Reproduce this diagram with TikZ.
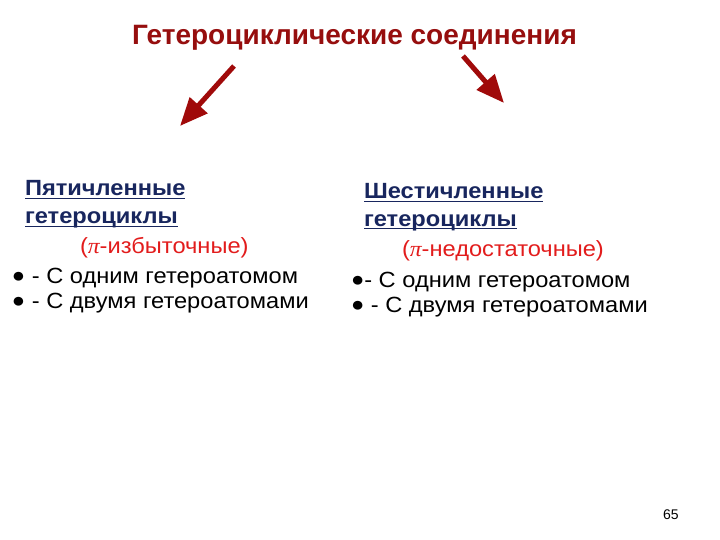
\documentclass[tikz,border=0pt]{standalone}
\usepackage{fontspec}
\setmainfont{Liberation Sans}
\newfontfamily\pifont{Liberation Serif}
\usetikzlibrary{arrows.meta}
\definecolor{titlered}{RGB}{150,14,14}
\definecolor{arrowred}{RGB}{160,10,10}
\definecolor{navy}{RGB}{24,38,94}
\definecolor{pired}{RGB}{226,28,28}
\tikzset{
  txt/.style={anchor=base west, inner sep=0pt, outer sep=0pt, font=\fontsize{22}{26}\selectfont},
  head/.style={txt, font=\fontsize{22}{26}\selectfont\bfseries, text=navy},
  pitxt/.style={txt, text=pired},
  ul/.style={draw=navy, line width=1.5pt},
  bigarrow/.style={draw=arrowred, line width=5pt, -{Triangle[length=28pt,width=23pt]}},
}
\newcommand{\mypi}{{\pifont\itshape π}}
\newcommand{\wide}[1]{\scalebox{1.075}[1]{#1}}
\newcommand{\blt}{\raisebox{0.5pt}{\fontsize{20.5}{22}\selectfont ●}}
\begin{document}
\begin{tikzpicture}[x=1pt,y=-1pt]
\useasboundingbox (0,0) rectangle (720,540);
\node[txt, anchor=base, font=\fontsize{28}{32}\selectfont\bfseries, text=titlered] (title) at (354.5,45) {Гетероциклические соединения};

\coordinate (a1s) at (234,66);
\coordinate (a1e) at (180,126);
\coordinate (a2s) at (463,56);
\coordinate (a2e) at (504,103);
\draw[bigarrow] (a1s) -- (a1e);
\draw[bigarrow] (a2s) -- (a2e);

% left block
\node[head] (l1) at (25,196) {\wide{Пятичленные}};
\node[head] (l2) at (25,224) {\wide{гетероциклы}};
\draw[ul] ([yshift=-2.5pt]l1.base west) -- ([yshift=-2.5pt]l1.base east);
\draw[ul] ([yshift=-2.5pt]l2.base west) -- ([yshift=-2.5pt]l2.base east);
\node[pitxt] (l3) at (80,253) {\wide{(\mypi-избыточные)}};
\node[txt] (l4) at (12,283) {\wide{\blt\ - С одним гетероатомом}};
\node[txt] (l5) at (12,308) {\wide{\blt\ - С двумя гетероатомами}};

% right block
\node[head] (r1) at (364,199) {\wide{Шестичленные}};
\node[head] (r2) at (364,226) {\wide{гетероциклы}};
\draw[ul] ([yshift=-2.5pt]r1.base west) -- ([yshift=-2.5pt]r1.base east);
\draw[ul] ([yshift=-2.5pt]r2.base west) -- ([yshift=-2.5pt]r2.base east);
\node[pitxt] (r3) at (402,256) {\wide{(\mypi-недостаточные)}};
\node[txt] (r4) at (351,287) {\wide{\blt- С одним гетероатомом}};
\node[txt] (r5) at (351,312) {\wide{\blt\ - С двумя гетероатомами}};

\node[txt, font=\fontsize{14}{16}\selectfont] (pg) at (663,519) {65};
\end{tikzpicture}
\end{document}
